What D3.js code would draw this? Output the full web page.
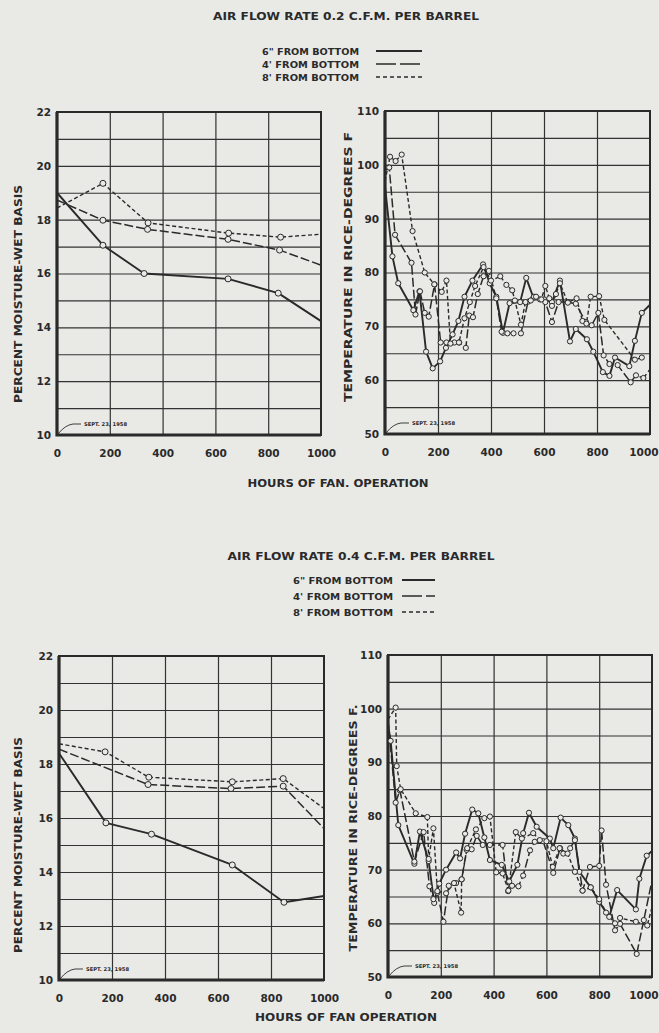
<!DOCTYPE html>
<html>
<head>
<meta charset="utf-8">
<script src="https://cdn.jsdelivr.net/npm/d3@7"></script>
<style>
  body { margin: 0; background: #e9e9e6; }
  svg { display: block; }
  text { font-family: "DejaVu Sans", sans-serif; font-weight: bold; fill: #2a2a2a; }
</style>
</head>
<body>
<script>
// hours axis ticks shared by all four panels
var hourTicks = [0, 200, 400, 600, 800, 1000];
var moistTicks = [10, 12, 14, 16, 18, 20, 22];
var tempTicks = [50, 60, 70, 80, 90, 100, 110];

var legendNames = ['6" FROM BOTTOM', "4' FROM BOTTOM", "8' FROM BOTTOM"];

// moisture, 0.2 cfm per barrel  [hours, percent]
var moist02Six = [[0, 19.0], [174, 17.05], [330, 16.0], [648, 15.8], [838, 15.27], [1000, 14.23]];
var moist02Four = [[0, 18.73], [174, 17.98], [343, 17.64], [648, 17.27], [843, 16.87], [1000, 16.31]];
var moist02Eight = [[0, 18.43], [174, 19.35], [345, 17.88], [650, 17.5], [847, 17.35], [1000, 17.46]];

// moisture, 0.4 cfm per barrel
var moist04Six = [[0, 18.4], [177, 15.82], [349, 15.4], [654, 14.26], [849, 12.88], [1000, 13.11]];
var moist04Four = [[0, 18.55], [336, 17.24], [649, 17.09], [846, 17.18], [1000, 15.61]];
var moist04Eight = [[0, 18.75], [174, 18.45], [339, 17.51], [654, 17.34], [846, 17.46], [1000, 16.35]];

// temperature, 0.2 cfm per barrel  [hours, degrees F]
var temp02Six = [[0, 96], [28, 83], [50, 78], [107, 73], [130, 76.5], [155, 65.3], [180, 62.2], [208, 63.5],
  [230, 66], [255, 68.5], [277, 71], [300, 75.5], [330, 78.5], [370, 81.5], [395, 78], [420, 75.5],
  [445, 68.8], [470, 74.3], [510, 74.5], [533, 79], [560, 75.3], [600, 75], [630, 74.5], [660, 78.5],
  [698, 67.2], [720, 69.5], [762, 67.6], [786, 65.3], [822, 61.5], [847, 60.8], [868, 64.2], [922, 62.6],
  [943, 67.3], [969, 72.5], [1000, 74]];
var temp02Four = [[0, 99], [16, 99.5], [38, 87], [100, 81.8], [115, 72.2], [132, 76.5], [150, 72.5], [165, 71.8],
  [187, 77.8], [210, 67], [232, 67], [262, 67], [280, 67], [305, 66], [318, 72], [332, 71.7], [350, 76],
  [372, 79.3], [392, 80.3], [420, 75.2], [440, 69], [462, 68.7], [485, 68.7], [513, 68.7], [540, 74.6],
  [562, 75.5], [585, 75], [605, 74.5], [630, 70.8], [655, 74.5], [690, 74.5], [720, 74.2], [758, 70.8],
  [780, 70.2], [805, 72.5], [825, 64.6], [847, 63], [878, 62.8], [927, 59.6], [947, 60.9], [975, 60.4],
  [1000, 62]];
var temp02Eight = [[0, 97], [19, 101.5], [40, 100.7], [63, 101.9], [104, 87.7], [150, 80], [186, 77.8],
  [214, 76.4], [232, 78.5], [247, 66.8], [279, 67], [300, 71.5], [320, 74.5], [340, 77.5], [372, 81],
  [400, 78.5], [435, 79.3], [458, 77.7], [480, 76.7], [490, 74.8], [513, 70.3], [530, 74.5], [550, 74.8],
  [570, 75.5], [590, 75], [605, 77.5], [620, 75.2], [630, 73.8], [645, 76], [660, 78], [690, 74.4],
  [723, 75.2], [745, 71], [760, 70.5], [776, 75.5], [808, 75.6], [828, 71.2], [943, 63.8], [969, 64.2]];

// temperature, 0.4 cfm per barrel
var temp04Six = [[0, 97], [10, 94], [39, 78.3], [100, 71.1], [121, 77.1], [154, 71.6], [175, 63.8], [194, 67.4],
  [220, 70], [258, 73.2], [273, 72.1], [292, 76.7], [319, 81.2], [342, 80.5], [365, 76], [386, 71.8],
  [431, 70.9], [459, 67.8], [490, 70.9], [512, 76.8], [534, 80.6], [563, 78], [613, 75.8], [626, 74],
  [654, 79.7], [683, 78.3], [708, 75.8], [725, 69.6], [768, 66.7], [800, 64], [838, 61.2], [868, 66.2],
  [939, 62.6], [952, 68.3], [980, 72.6], [1000, 73.5]];
var temp04Four = [[0, 98], [29, 82.5], [45, 84.8], [100, 71.5], [135, 77], [157, 66.9], [172, 64.5], [187, 65.7],
  [210, 60.3], [230, 67], [258, 67.5], [279, 68.2], [298, 73.7], [317, 73.8], [336, 76.3], [359, 74.6],
  [386, 74.6], [434, 74.6], [455, 66], [470, 67], [494, 66.9], [512, 68.9], [538, 73.6], [556, 75.2],
  [588, 75.3], [626, 69.4], [652, 74], [664, 73], [690, 74], [708, 75.5], [737, 66.1], [765, 70.5],
  [800, 70.7], [809, 77.3], [826, 67.2], [860, 58.7], [879, 59.9], [942, 54.3], [969, 60.6], [1000, 68]];
var temp04Eight = [[0, 98], [29, 100.2], [33, 89.3], [48, 85], [105, 80.5], [149, 79.8], [154, 72], [172, 77.7],
  [187, 66], [220, 65.6], [250, 67.5], [277, 62], [279, 68.2], [300, 74], [333, 77.5], [365, 79.6],
  [386, 79.9], [410, 69.5], [434, 69.3], [456, 66.1], [484, 77], [507, 75.8], [550, 76.8], [575, 75.5],
  [600, 75.3], [624, 70.5], [650, 74], [680, 73], [708, 69.6], [737, 66.1], [768, 66.7], [800, 64.5],
  [826, 62], [860, 60], [879, 61], [939, 60.3], [982, 59.6], [1000, 63]];

var width = 659;
var height = 1033;
var ink = "#2a2a2a";
var paper = "#e9e9e6";

// dash style per series: 6" solid, 4' long dash, 8' short dash
var dashes = [null, "9,3", "4,2.5"];
var widths = [1.9, 1.5, 1.4];

var svg = d3.select("body")
  .append("svg")
  .attr("width", width)
  .attr("height", height);

svg.append("rect").attr("width", width).attr("height", height).attr("fill", paper);

// one chart box
function drawPanel(p)
{
  var x = d3.scaleLinear().domain([0, 1000]).range([p.left, p.right]);
  var y = d3.scaleLinear().domain(p.domain).range([p.bottom, p.top]);
  var g = svg.append("g");

  // grid
  var gridY = d3.range(p.domain[0], p.domain[1] + 0.001, p.gridStep);
  g.append("g")
    .attr("transform", "translate(" + p.left + ",0)")
    .call(d3.axisLeft(y).tickValues(gridY).tickSize(-(p.right - p.left)).tickFormat(""))
    .call(function(s) { s.select(".domain").remove(); })
    .selectAll("line").attr("stroke", "#333").attr("stroke-width", 1.2);

  g.append("g")
    .attr("transform", "translate(0," + p.bottom + ")")
    .call(d3.axisBottom(x).tickValues([200, 400, 600, 800]).tickSize(-(p.bottom - p.top)).tickFormat(""))
    .call(function(s) { s.select(".domain").remove(); })
    .selectAll("line").attr("stroke", "#333").attr("stroke-width", 1.2);

  // frame
  g.append("rect")
    .attr("x", p.left).attr("y", p.top)
    .attr("width", p.right - p.left).attr("height", p.bottom - p.top)
    .attr("fill", "none").attr("stroke", ink).attr("stroke-width", 2);
  g.append("path")
    .attr("d", "M" + p.left + "," + p.top + "V" + p.bottom + "H" + p.right)
    .attr("fill", "none").attr("stroke", ink).attr("stroke-width", 3.2);

  // tick labels
  var yAx = g.append("g")
    .attr("transform", "translate(" + (p.left - 6) + ",0)")
    .call(d3.axisLeft(y).tickValues(p.ticks).tickSize(0).tickPadding(0));
  yAx.select(".domain").remove();
  yAx.selectAll("text").attr("font-size", 10.5).attr("fill", ink)
    .style("font-family", "DejaVu Sans").style("font-weight", "bold");

  var xAx = g.append("g")
    .attr("transform", "translate(0," + (p.bottom + 15) + ")")
    .call(d3.axisBottom(x).tickValues(hourTicks).tickFormat(d3.format("d")).tickSize(0).tickPadding(0));
  xAx.select(".domain").remove();
  xAx.selectAll("text").attr("font-size", 10.5).attr("fill", ink)
    .style("font-family", "DejaVu Sans").style("font-weight", "bold");
  // last label runs into the page edge on the right hand charts
  if (p.right > 600)
  {
    xAx.selectAll("text")
      .filter(function(d) { return d === 1000; })
      .attr("text-anchor", "end")
      .attr("x", width - 1 - p.right);
  }

  // axis title
  g.append("text")
    .attr("transform", "translate(" + p.titleX + "," + p.titleY + ")rotate(-90)")
    .attr("text-anchor", "middle")
    .attr("dy", "0.35em")
    .attr("font-size", 10.5)
    .attr("textLength", p.titleLen)
    .attr("lengthAdjust", "spacingAndGlyphs")
    .text(p.title);

  // start date note
  g.append("path")
    .attr("d", "M" + (p.left + 1) + "," + (p.bottom - 1) + "Q" + (p.left + 8) + "," + (p.bottom - 10) + " " + (p.left + 16) + "," + (p.bottom - 11) + "H" + (p.left + 24))
    .attr("fill", "none").attr("stroke", ink).attr("stroke-width", 0.9);
  g.append("text")
    .attr("x", p.left + 27).attr("y", p.bottom - 11)
    .attr("dy", "0.35em")
    .attr("font-size", 5.2)
    .text("SEPT. 23, 1958");

  var line = d3.line()
    .x(function(d) { return x(d[0]); })
    .y(function(d) { return y(d[1]); });

  p.series.forEach(function(s, i)
  {
    g.append("path")
      .datum(s)
      .attr("d", line)
      .attr("fill", "none")
      .attr("stroke", ink)
      .attr("stroke-width", widths[i])
      .attr("stroke-linejoin", "round")
      .attr("stroke-dasharray", dashes[i]);
  });

  p.series.forEach(function(s)
  {
    g.selectAll(null)
      .data(s.filter(function(d) { return d[0] > 0 && d[0] < 1000; }))
      .enter()
      .append("circle")
      .attr("cx", function(d) { return x(d[0]); })
      .attr("cy", function(d) { return y(d[1]); })
      .attr("r", p.r)
      .attr("fill", paper)
      .attr("stroke", ink)
      .attr("stroke-width", 1);
  });
}

// heading + legend block
function drawHeader(h)
{
  svg.append("text")
    .attr("x", h.cx).attr("y", h.y)
    .attr("text-anchor", "middle")
    .attr("font-size", 11)
    .attr("textLength", h.len)
    .attr("lengthAdjust", "spacingAndGlyphs")
    .text(h.title);

  legendNames.forEach(function(name, i)
  {
    var ly = h.ly + i * h.step;
    svg.append("text")
      .attr("x", h.tx).attr("y", ly)
      .attr("dy", "0.35em")
      .attr("text-anchor", "end")
      .attr("font-size", 9.5)
      .attr("textLength", h.tlen)
      .attr("lengthAdjust", "spacingAndGlyphs")
      .text(name);
    svg.append("line")
      .attr("x1", h.lx0).attr("x2", h.lx1)
      .attr("y1", ly - 1).attr("y2", ly - 1)
      .attr("stroke", ink)
      .attr("stroke-width", widths[i])
      .attr("stroke-dasharray", i === 0 ? null : (i === 1 ? "20,4" : "4,3"));
  });

  svg.append("text")
    .attr("x", h.hx).attr("y", h.hy)
    .attr("dy", "0.35em")
    .attr("text-anchor", "middle")
    .attr("font-size", 11)
    .attr("textLength", h.hlen)
    .attr("lengthAdjust", "spacingAndGlyphs")
    .text(h.hours);
}

drawHeader({ title: "AIR FLOW RATE 0.2 C.F.M. PER BARREL", cx: 346, y: 20, len: 266,
  tx: 359, ly: 52, step: 13, tlen: 97, lx0: 376, lx1: 422,
  hours: "HOURS OF FAN. OPERATION", hx: 338, hy: 483, hlen: 181 });
drawHeader({ title: "AIR FLOW RATE 0.4 C.F.M. PER BARREL", cx: 361, y: 560, len: 267,
  tx: 393, ly: 581, step: 16, tlen: 100, lx0: 402, lx1: 435,
  hours: "HOURS OF FAN OPERATION", hx: 346, hy: 1017, hlen: 182 });

drawPanel({ left: 57, right: 321, top: 112, bottom: 435, domain: [10, 22], gridStep: 1, ticks: moistTicks,
  title: "PERCENT MOISTURE-WET BASIS", titleX: 18, titleY: 294, titleLen: 218, r: 3,
  series: [moist02Six, moist02Four, moist02Eight] });
drawPanel({ left: 385, right: 650, top: 111, bottom: 434, domain: [50, 110], gridStep: 5, ticks: tempTicks,
  title: "TEMPERATURE IN RICE-DEGREES F", titleX: 348, titleY: 267, titleLen: 270, r: 2.6,
  series: [temp02Six, temp02Four, temp02Eight] });
drawPanel({ left: 59, right: 324, top: 656, bottom: 980, domain: [10, 22], gridStep: 1, ticks: moistTicks,
  title: "PERCENT MOISTURE-WET BASIS", titleX: 18, titleY: 845, titleLen: 216, r: 3,
  series: [moist04Six, moist04Four, moist04Eight] });
drawPanel({ left: 388, right: 652, top: 655, bottom: 977, domain: [50, 110], gridStep: 5, ticks: tempTicks,
  title: "TEMPERATURE IN RICE-DEGREES F.", titleX: 353, titleY: 828, titleLen: 247, r: 2.6,
  series: [temp04Six, temp04Four, temp04Eight] });
</script>
</body>
</html>
